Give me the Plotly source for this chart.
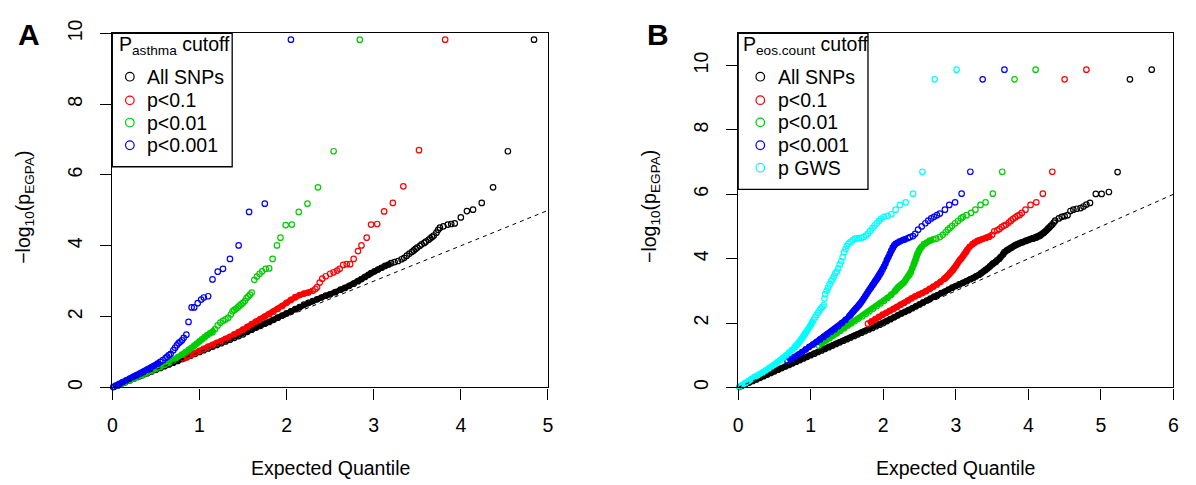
import plotly.graph_objects as go

# ---------------- Panel A data (P_asthma cutoff) ----------------
a_all_x = [0.02,0.06,0.1,0.15,0.2,0.25,0.3,0.35,0.4,0.45,0.5,0.55,0.6,0.65,0.7,0.75,0.8,0.85,0.9,0.95,
           1.0,1.05,1.1,1.15,1.2,1.25,1.3,1.35,1.4,1.45,1.5,1.55,1.6,1.65,1.7,1.75,1.8,1.85,1.9,1.95,
           2.0,2.05,2.1,2.15,2.2,2.25,2.3,2.35,2.4,2.45,2.5,2.56,2.62,2.67,2.72,2.77,2.82,2.86,2.9,2.94,
           2.97,3.01,3.05,3.09,3.13,3.17,3.2,3.24,3.28,3.32,3.35,3.38,3.41,3.44,3.46,3.48,3.5,3.53,3.55,3.58,
           3.6,3.63,3.65,3.67,3.69,3.72,3.74,3.76,3.8,3.85,3.89,3.93,4.0,4.07,4.14,4.24,4.37,4.54,4.84]
a_all_y = [0.02,0.05,0.1,0.15,0.2,0.25,0.3,0.35,0.4,0.45,0.5,0.55,0.6,0.65,0.7,0.75,0.8,0.85,0.9,0.95,
           1.0,1.05,1.1,1.15,1.2,1.25,1.3,1.35,1.4,1.45,1.5,1.57,1.63,1.69,1.74,1.8,1.85,1.91,1.97,2.03,
           2.09,2.15,2.21,2.27,2.34,2.39,2.44,2.49,2.54,2.59,2.63,2.69,2.76,2.81,2.87,2.93,3.0,3.06,3.12,3.18,
           3.23,3.28,3.33,3.38,3.43,3.47,3.51,3.54,3.57,3.62,3.66,3.72,3.78,3.83,3.87,3.91,3.95,4.0,4.04,4.08,
           4.12,4.17,4.21,4.25,4.29,4.37,4.45,4.51,4.55,4.6,4.615,4.63,4.8,4.98,5.02,5.21,5.65,6.67,9.82]

a_p01_x = [0.82,0.86,0.9,0.95,1.0,1.05,1.1,1.15,1.2,1.25,1.3,1.35,1.4,1.45,1.5,1.55,1.6,1.65,1.7,1.75,
           1.8,1.85,1.9,1.95,2.0,2.05,2.1,2.15,2.2,2.25,2.3,2.33,2.35,2.38,2.41,2.45,2.5,2.54,2.58,2.61,
           2.65,2.69,2.73,2.77,2.82,2.86,2.92,2.97,3.04,3.12,3.22,3.34,3.52,3.82]
a_p01_y = [0.82,0.86,0.91,0.97,1.03,1.09,1.15,1.2,1.26,1.31,1.37,1.43,1.5,1.56,1.63,1.71,1.79,1.86,1.93,2.0,
           2.07,2.14,2.22,2.3,2.39,2.47,2.55,2.61,2.65,2.68,2.73,2.78,2.83,2.96,3.07,3.14,3.21,3.25,3.3,3.35,
           3.46,3.48,3.48,3.63,3.85,4.01,4.23,4.6,4.615,4.97,5.21,5.68,6.7,9.82]

a_p001_x = [0.05,0.1,0.15,0.2,0.25,0.3,0.35,0.4,0.45,0.5,0.55,0.6,0.65,0.7,0.75,0.8,0.84,0.88,0.91,0.94,
            0.97,1.0,1.03,1.06,1.09,1.12,1.15,1.18,1.21,1.24,1.27,1.3,1.33,1.36,1.38,1.4,1.42,1.44,1.46,1.48,
            1.5,1.52,1.54,1.56,1.58,1.6,1.63,1.66,1.69,1.72,1.76,1.8,1.84,1.89,1.93,1.99,2.06,2.14,2.24,2.36,
            2.54,2.84]
a_p001_y = [0.05,0.1,0.15,0.2,0.25,0.31,0.36,0.42,0.47,0.53,0.58,0.64,0.7,0.77,0.85,0.93,1.0,1.07,1.12,1.18,
            1.24,1.3,1.36,1.42,1.48,1.53,1.56,1.65,1.75,1.83,1.88,1.92,1.97,2.06,2.15,2.19,2.22,2.26,2.31,2.35,
            2.39,2.44,2.52,2.57,2.62,2.68,3.04,3.13,3.21,3.28,3.35,3.36,3.63,4.01,4.23,4.585,4.6,4.955,5.19,5.65,
            6.67,9.82]

a_p0001_x = [0.01,0.04,0.08,0.12,0.16,0.2,0.24,0.28,0.32,0.36,0.4,0.44,0.48,0.52,0.55,0.58,0.61,0.63,0.65,0.67,
             0.7,0.72,0.74,0.76,0.78,0.8,0.82,0.85,0.875,0.91,0.94,0.98,1.02,1.05,1.1,1.15,1.21,1.27,1.35,1.45,
             1.57,1.75,2.05]
a_p0001_y = [0.01,0.05,0.1,0.15,0.2,0.25,0.3,0.34,0.39,0.44,0.5,0.55,0.61,0.67,0.72,0.77,0.83,0.87,0.91,0.95,
             1.05,1.12,1.19,1.25,1.29,1.33,1.4,1.49,1.85,2.26,2.26,2.38,2.48,2.54,2.575,3.05,3.27,3.35,3.63,4.01,
             4.955,5.19,9.82]

# ---------------- Panel B data (P_eos.count cutoff) ----------------
b_all_x = [0.02,0.05,0.1,0.15,0.2,0.25,0.3,0.35,0.4,0.45,0.5,0.55,0.6,0.65,0.7,0.75,0.8,0.85,0.9,0.95,
           1.0,1.05,1.1,1.15,1.2,1.25,1.3,1.35,1.4,1.45,1.5,1.55,1.6,1.65,1.7,1.75,1.8,1.85,1.9,1.95,
           2.0,2.05,2.1,2.15,2.2,2.25,2.3,2.35,2.4,2.45,2.5,2.55,2.6,2.65,2.7,2.75,2.8,2.85,2.9,2.95,
           3.0,3.05,3.1,3.15,3.2,3.24,3.28,3.32,3.35,3.38,3.41,3.44,3.47,3.5,3.52,3.55,3.57,3.6,3.62,3.65,
           3.67,3.7,3.72,3.75,3.77,3.8,3.82,3.85,3.87,3.9,3.92,3.95,3.97,4.0,4.02,4.05,4.07,4.1,4.12,4.15,
           4.17,4.19,4.21,4.23,4.25,4.27,4.29,4.31,4.33,4.35,4.37,4.42,4.46,4.5,4.54,4.58,4.62,4.667,4.72,4.76,
           4.8,4.85,4.93,5.01,5.11,5.23,5.4,5.7]
b_all_y = [0.02,0.05,0.1,0.15,0.2,0.25,0.3,0.35,0.4,0.45,0.5,0.55,0.6,0.65,0.7,0.75,0.8,0.85,0.9,0.95,
           1.0,1.05,1.1,1.15,1.2,1.25,1.3,1.35,1.4,1.45,1.5,1.55,1.6,1.65,1.7,1.75,1.8,1.85,1.9,1.95,
           2.0,2.06,2.12,2.18,2.24,2.3,2.35,2.4,2.46,2.52,2.58,2.64,2.7,2.76,2.82,2.87,2.93,2.98,3.04,3.1,
           3.15,3.2,3.25,3.3,3.36,3.4,3.45,3.5,3.55,3.6,3.65,3.7,3.76,3.82,3.86,3.9,3.95,4.0,4.06,4.13,
           4.2,4.25,4.28,4.32,4.35,4.39,4.42,4.45,4.47,4.5,4.51,4.54,4.56,4.58,4.6,4.62,4.63,4.65,4.67,4.7,
           4.73,4.77,4.8,4.84,4.88,4.93,4.97,5.02,5.06,5.12,5.18,5.25,5.3,5.32,5.35,5.48,5.52,5.55,5.57,5.62,
           5.68,5.73,6.01,6.01,6.07,6.69,9.57,9.87]

b_p01_x = [1.79,1.84,1.89,1.94,1.99,2.04,2.09,2.14,2.19,2.24,2.29,2.34,2.39,2.44,2.49,2.54,2.59,2.64,2.69,2.74,
           2.79,2.84,2.86,2.88,2.9,2.92,2.94,2.96,2.98,3.0,3.02,3.04,3.06,3.08,3.1,3.12,3.14,3.16,3.19,3.23,
           3.26,3.3,3.33,3.37,3.42,3.46,3.5,3.53,3.57,3.6,3.63,3.66,3.69,3.73,3.76,3.79,3.82,3.85,3.88,3.91,
           3.96,4.03,4.11,4.2,4.33,4.5,4.8]
b_p01_y = [1.98,2.05,2.12,2.19,2.26,2.32,2.38,2.44,2.5,2.57,2.63,2.7,2.77,2.83,2.88,2.93,2.99,3.06,3.13,3.2,
           3.28,3.37,3.41,3.45,3.5,3.55,3.6,3.65,3.71,3.77,3.84,3.91,3.97,4.02,4.08,4.15,4.21,4.28,4.37,4.45,
           4.5,4.55,4.58,4.61,4.65,4.68,4.74,4.85,4.88,4.92,4.98,5.02,5.05,5.12,5.18,5.24,5.28,5.33,5.36,5.42,
           5.52,5.67,5.75,6.02,6.7,9.57,9.87]

b_p001_x = [1.11,1.16,1.21,1.26,1.31,1.36,1.41,1.46,1.51,1.56,1.61,1.66,1.71,1.76,1.81,1.86,1.91,1.96,2.01,2.06,
            2.11,2.16,2.18,2.2,2.22,2.24,2.26,2.28,2.3,2.32,2.34,2.36,2.38,2.4,2.42,2.43,2.44,2.45,2.46,2.47,
            2.49,2.51,2.53,2.56,2.6,2.64,2.69,2.73,2.78,2.82,2.86,2.89,2.92,2.95,2.99,3.03,3.07,3.1,3.15,3.21,
            3.27,3.34,3.41,3.51,3.64,3.81,4.1]
b_p001_y = [1.3,1.38,1.46,1.53,1.61,1.68,1.76,1.84,1.92,1.99,2.07,2.14,2.21,2.29,2.37,2.45,2.53,2.61,2.69,2.78,
            2.88,2.99,3.05,3.1,3.14,3.18,3.22,3.25,3.31,3.38,3.45,3.5,3.58,3.7,3.82,3.88,3.94,4.0,4.08,4.15,
            4.24,4.31,4.37,4.45,4.5,4.56,4.6,4.62,4.67,4.74,4.82,4.9,4.96,5.02,5.1,5.17,5.25,5.3,5.35,5.42,
            5.52,5.67,5.75,6.02,6.7,9.57,9.87]

b_p0001_x = [0.68,0.73,0.78,0.83,0.88,0.93,0.98,1.03,1.08,1.13,1.18,1.23,1.28,1.33,1.38,1.43,1.48,1.53,1.55,1.57,
             1.59,1.61,1.63,1.65,1.67,1.69,1.71,1.73,1.75,1.77,1.79,1.81,1.83,1.85,1.87,1.89,1.91,1.93,1.95,1.97,
             1.99,2.01,2.03,2.05,2.07,2.09,2.11,2.13,2.15,2.17,2.2,2.23,2.27,2.3,2.34,2.37,2.41,2.44,2.48,2.53,
             2.58,2.62,2.66,2.7,2.74,2.78,2.85,2.91,2.99,3.08,3.2,3.37,3.67]
b_p0001_y = [0.82,0.88,0.95,1.02,1.1,1.18,1.26,1.33,1.41,1.49,1.57,1.65,1.73,1.81,1.9,2.0,2.1,2.21,2.26,2.32,
             2.37,2.42,2.47,2.52,2.57,2.63,2.69,2.76,2.83,2.9,2.97,3.04,3.1,3.17,3.23,3.3,3.36,3.42,3.5,3.57,
             3.66,3.75,3.85,3.96,4.05,4.15,4.25,4.34,4.41,4.46,4.5,4.54,4.58,4.6,4.64,4.67,4.7,4.77,4.9,5.0,
             5.1,5.18,5.25,5.3,5.35,5.4,5.52,5.67,5.75,6.02,6.7,9.57,9.87]

b_gws_x = [0.02,0.06,0.1,0.14,0.18,0.22,0.26,0.3,0.34,0.38,0.42,0.46,0.5,0.54,0.58,0.62,0.66,0.7,0.74,0.78,
           0.8,0.82,0.84,0.86,0.88,0.9,0.92,0.94,0.96,0.98,1.0,1.02,1.04,1.06,1.08,1.1,1.12,1.14,1.16,1.18,
           1.19,1.2,1.22,1.24,1.26,1.28,1.3,1.32,1.34,1.36,1.38,1.4,1.42,1.44,1.46,1.48,1.5,1.52,1.55,1.58,
           1.61,1.64,1.67,1.7,1.73,1.76,1.79,1.82,1.85,1.88,1.91,1.94,1.97,2.01,2.06,2.11,2.17,2.23,2.31,2.41,
           2.54,2.71,3.01]
b_gws_y = [0.03,0.08,0.14,0.2,0.26,0.32,0.37,0.42,0.47,0.53,0.59,0.65,0.71,0.78,0.85,0.93,1.0,1.08,1.16,1.25,
           1.3,1.35,1.41,1.47,1.53,1.6,1.67,1.73,1.8,1.87,1.94,2.02,2.1,2.18,2.25,2.32,2.39,2.45,2.5,2.56,
           2.76,2.9,3.0,3.1,3.2,3.3,3.36,3.45,3.55,3.6,3.7,3.82,3.92,4.05,4.2,4.3,4.4,4.47,4.52,4.58,
           4.62,4.63,4.64,4.65,4.67,4.72,4.78,4.86,4.95,5.03,5.1,5.17,5.24,5.3,5.33,5.38,5.52,5.67,5.75,6.02,
           6.7,9.57,9.87]

a_labels = ["All SNPs", "p<0.1", "p<0.01", "p<0.001"]
b_labels = ["All SNPs", "p<0.1", "p<0.01", "p<0.001", "p GWS"]
colors = ["#000000", "#FF0000", "#00CD00", "#0000FF", "#00FFFF"]

# expected-quantile limit up to which points are so dense they overplot into a solid band (style)
a_solid_upto = [3.2, 2.3, 1.2, 0.55]
b_solid_upto = [4.3, 3.5, 2.7, 2.35, 1.05]

a_series = [(a_all_x, a_all_y), (a_p01_x, a_p01_y), (a_p001_x, a_p001_y), (a_p0001_x, a_p0001_y)]
b_series = [(b_all_x, b_all_y), (b_p01_x, b_p01_y), (b_p001_x, b_p001_y), (b_p0001_x, b_p0001_y), (b_gws_x, b_gws_y)]

a_diag = [0, 5]
b_diag = [0, 6]

FONT = "Liberation Sans, Arial, Helvetica, sans-serif"
FS = 19.5
W, H = 1196, 485

fig = go.Figure()

def add_panel(series, labels, solid, xa, ya):
    for (xs, ys), lab, col, lim in zip(series, labels, colors, solid):
        assert len(xs) == len(ys), lab
        dx = [x for x in xs if x <= lim]
        dy = [y for x, y in zip(xs, ys) if x <= lim]
        # overplotted (solid) stretch
        fig.add_trace(go.Scatter(
            x=dx, y=dy, mode="lines", xaxis=xa, yaxis=ya, name=lab,
            line=dict(color=col, width=5.5), showlegend=False, cliponaxis=False, hoverinfo="skip"))
        fig.add_trace(go.Scatter(
            x=xs, y=ys, mode="markers", xaxis=xa, yaxis=ya, name=lab,
            marker=dict(symbol="circle-open", size=5.5, color=col, line=dict(width=1.2, color=col)),
            showlegend=False, cliponaxis=False, hoverinfo="x+y"))

add_panel(a_series, a_labels, a_solid_upto, "x", "y")
add_panel(b_series, b_labels, b_solid_upto, "x2", "y2")

# reference diagonals
fig.add_trace(go.Scatter(x=a_diag, y=a_diag, mode="lines", xaxis="x", yaxis="y",
                         line=dict(color="black", width=1, dash="4px,4px"), showlegend=False, hoverinfo="skip"))
fig.add_trace(go.Scatter(x=b_diag, y=b_diag, mode="lines", xaxis="x2", yaxis="y2",
                         line=dict(color="black", width=1, dash="4px,4px"), showlegend=False, hoverinfo="skip"))

ydom = [1 - 387 / H, 1 - 20 / H]
axis_common = dict(showline=True, mirror=True, linecolor="black", linewidth=1.4,
                   ticks="outside", ticklen=11, tickwidth=1.2, tickcolor="black",
                   showgrid=False, zeroline=False,
                   tickfont=dict(family=FONT, size=FS, color="black"))

fig.update_layout(
    width=W, height=H, margin=dict(l=0, r=0, t=0, b=0),
    paper_bgcolor="white", plot_bgcolor="white",
    font=dict(family=FONT, size=FS, color="black"),
    showlegend=False,
    xaxis=dict(domain=[108.3 / W, 548 / W], range=[0, 5], tickvals=[0, 1, 2, 3, 4, 5],
               ticklabelstandoff=9, anchor="y", **axis_common),
    yaxis=dict(domain=ydom, range=[0, 10], tickvals=[0, 2, 4, 6, 8, 10], tickangle=-90,
               ticklabelstandoff=10, anchor="x", **axis_common),
    xaxis2=dict(domain=[740 / W, 1179.3 / W], range=[0, 6], tickvals=[0, 1, 2, 3, 4, 5, 6],
                ticklabelstandoff=9, anchor="y2", **axis_common),
    yaxis2=dict(domain=ydom, range=[0, 11], tickvals=[0, 2, 4, 6, 8, 10], tickangle=-90,
                ticklabelstandoff=10, anchor="x2", **axis_common),
)

def px(x):
    return x / W

def py(y):
    return 1 - y / H

ann = []
shapes = []

# ---- hand-placed legends (box, title, symbols, labels) ----
def add_legend(left, right, bottom, title, title_x, sym_x, text_x, rows, labels):
    shapes.append(dict(type="rect", xref="paper", yref="paper",
                       x0=px(left), x1=px(right), y0=py(bottom), y1=py(20),
                       line=dict(color="black", width=1.3), fillcolor="white", layer="above"))
    ann.append(dict(text=title, x=px(title_x), y=py(33), xref="paper", yref="paper",
                    xanchor="left", yanchor="middle", showarrow=False,
                    font=dict(family=FONT, size=FS, color="black")))
    for yy, lab, col in zip(rows, labels, colors):
        shapes.append(dict(type="circle", xref="paper", yref="paper",
                           xsizemode="pixel", ysizemode="pixel",
                           xanchor=px(sym_x), yanchor=py(yy),
                           x0=-4.3, x1=4.3, y0=-4.3, y1=4.3,
                           line=dict(color=col, width=1.2), layer="above"))
        ann.append(dict(text=lab, x=px(text_x), y=py(yy), xref="paper", yref="paper",
                        xanchor="left", yanchor="middle", showarrow=False,
                        font=dict(family=FONT, size=FS, color="black")))

add_legend(108.3, 229.3, 158.3, "P<sub>asthma</sub> cutoff", 113, 126, 141.5,
           [65, 89.5, 112.5, 136], a_labels)
add_legend(740, 871, 181.7, "P<sub>eos.count</sub> cutoff", 743, 762.3, 778,
           [65, 89.3, 112.3, 136, 159.3], b_labels)

ann.append(dict(text="<b>A</b>", x=px(24), y=py(21), xref="paper", yref="paper",
                xanchor="center", yanchor="middle", showarrow=False, font=dict(family=FONT, size=30)))
ann.append(dict(text="<b>B</b>", x=px(659), y=py(21), xref="paper", yref="paper",
                xanchor="center", yanchor="middle", showarrow=False, font=dict(family=FONT, size=30)))
for xc in [20, 652]:
    ann.append(dict(text="\u2212log<sub>10</sub>(p<sub>EGPA</sub>)", x=px(xc), y=py(200),
                    xref="paper", yref="paper", xanchor="center", yanchor="middle", textangle=-90,
                    showarrow=False, font=dict(family=FONT, size=FS)))
for xc in [328.15, 959.65]:
    ann.append(dict(text="Expected Quantile", x=px(xc), y=py(471), xref="paper", yref="paper",
                    xanchor="center", yanchor="middle", showarrow=False, font=dict(family=FONT, size=FS)))

fig.update_layout(annotations=ann, shapes=shapes)

fig.write_html("out.html")
